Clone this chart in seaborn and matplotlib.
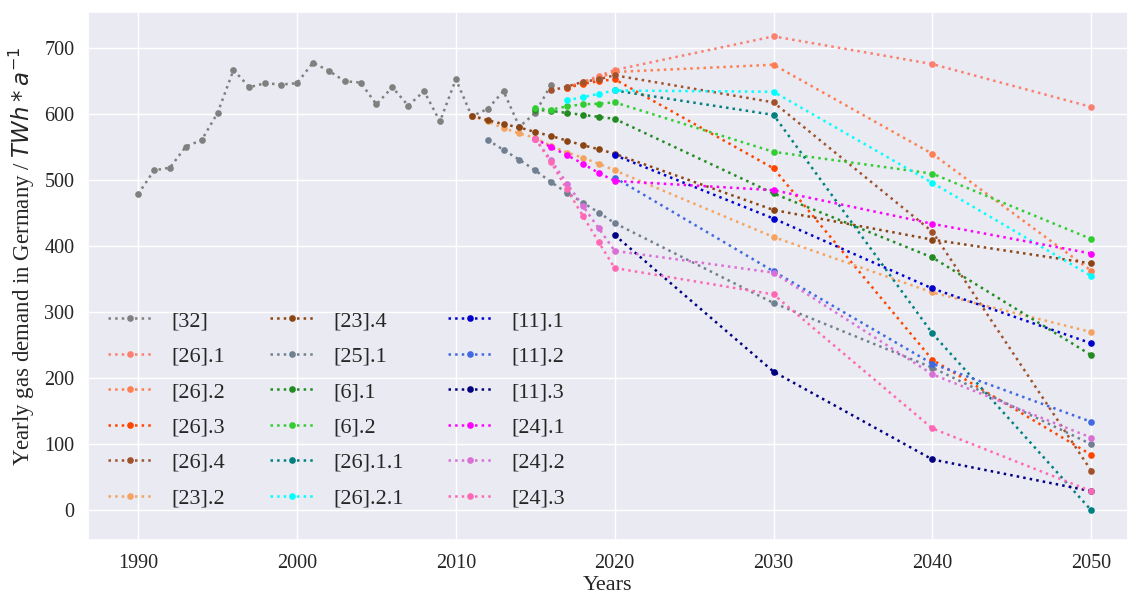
import matplotlib
matplotlib.use("Agg")
import matplotlib.pyplot as plt
import seaborn as sns

# Historical demand [32]
hist_years = list(range(1990, 2017))
hist_values = [479, 515, 519, 551, 561, 602, 667, 641, 647, 645, 647, 678, 666,
               650, 648, 615, 641, 613, 635, 589, 653, 597, 608, 635, 581, 602, 645]

# Scenario series
s26_1_years = [2017, 2018, 2019, 2020, 2030, 2040, 2050]
s26_1_values = [641, 649, 658, 667, 718, 676, 611]

s26_2_years = [2017, 2018, 2019, 2020, 2030, 2040, 2050]
s26_2_values = [640, 647, 655, 664, 675, 540, 363]

s26_3_years = [2017, 2018, 2019, 2020, 2030, 2040, 2050]
s26_3_values = [640, 646, 650, 653, 518, 228, 84]

s26_4_years = [2016, 2017, 2018, 2019, 2020, 2030, 2040, 2050]
s26_4_values = [636, 642, 649, 653, 659, 618, 422, 60]

s23_2_years = [2011, 2012, 2013, 2014, 2015, 2016, 2017, 2018, 2019, 2020, 2030, 2040, 2050]
s23_2_values = [598, 589, 579, 571, 564, 552, 542, 534, 525, 515, 414, 330, 270]

s23_4_years = [2011, 2012, 2013, 2014, 2015, 2016, 2017, 2018, 2019, 2020, 2030, 2040, 2050]
s23_4_values = [598, 591, 585, 580, 573, 567, 560, 553, 547, 540, 455, 410, 374]

s25_1_years = [2012, 2013, 2014, 2015, 2016, 2017, 2018, 2019, 2020, 2030, 2040, 2050]
s25_1_values = [561, 546, 531, 515, 497, 481, 466, 451, 435, 314, 216, 100]

s6_1_years = [2015, 2016, 2017, 2018, 2019, 2020, 2030, 2040, 2050]
s6_1_values = [607, 605, 602, 599, 596, 593, 480, 383, 235]

s6_2_years = [2015, 2016, 2017, 2018, 2019, 2020, 2030, 2040, 2050]
s6_2_values = [609, 607, 612, 615, 616, 618, 543, 510, 411]

s26_1_1_years = [2020, 2030, 2040, 2050]
s26_1_1_values = [636, 599, 268, 0]

s26_2_1_years = [2017, 2018, 2019, 2020, 2030, 2040, 2050]
s26_2_1_values = [621, 626, 631, 636, 634, 496, 355]

s11_1_years = [2020, 2030, 2040, 2050]
s11_1_values = [538, 442, 336, 253]

s11_2_years = [2020, 2030, 2040, 2050]
s11_2_values = [504, 362, 222, 134]

s11_3_years = [2020, 2030, 2040, 2050]
s11_3_values = [417, 210, 77, 29]

s24_1_years = [2015, 2016, 2017, 2018, 2019, 2020, 2030, 2040, 2050]
s24_1_values = [563, 550, 538, 525, 511, 499, 485, 434, 389]

s24_2_years = [2015, 2016, 2017, 2018, 2019, 2020, 2030, 2040, 2050]
s24_2_values = [563, 530, 495, 461, 427, 393, 360, 206, 110]

s24_3_years = [2015, 2016, 2017, 2018, 2019, 2020, 2030, 2040, 2050]
s24_3_values = [563, 527, 486, 446, 406, 367, 327, 124, 29]

labels = ["[32]", "[26].1", "[26].2", "[26].3", "[26].4", "[23].2",
          "[23].4", "[25].1", "[6].1", "[6].2", "[26].1.1", "[26].2.1",
          "[11].1", "[11].2", "[11].3", "[24].1", "[24].2", "[24].3"]
colors = ["gray", "salmon", "coral", "orangered", "sienna", "sandybrown",
          "saddlebrown", "slategray", "forestgreen", "limegreen", "teal", "cyan",
          "mediumblue", "royalblue", "navy", "magenta", "orchid", "hotpink"]
series = [
    (hist_years, hist_values),
    (s26_1_years, s26_1_values),
    (s26_2_years, s26_2_values),
    (s26_3_years, s26_3_values),
    (s26_4_years, s26_4_values),
    (s23_2_years, s23_2_values),
    (s23_4_years, s23_4_values),
    (s25_1_years, s25_1_values),
    (s6_1_years, s6_1_values),
    (s6_2_years, s6_2_values),
    (s26_1_1_years, s26_1_1_values),
    (s26_2_1_years, s26_2_1_values),
    (s11_1_years, s11_1_values),
    (s11_2_years, s11_2_values),
    (s11_3_years, s11_3_values),
    (s24_1_years, s24_1_values),
    (s24_2_years, s24_2_values),
    (s24_3_years, s24_3_values),
]

x_ticks = [1990, 2000, 2010, 2020, 2030, 2040, 2050]
y_ticks = [0, 100, 200, 300, 400, 500, 600, 700]

sns.set_theme(style="darkgrid")
plt.rcParams["font.family"] = ["Liberation Serif", "DejaVu Serif"]
plt.rcParams["mathtext.fontset"] = "dejavusans"

fig = plt.figure(figsize=(11.3, 5.96), dpi=100)
ax = fig.add_axes([0.078, 0.094, 0.920, 0.886])

for (xs, ys), lab, col in zip(series, labels, colors):
    sns.lineplot(x=xs, y=ys, ax=ax, color=col, linestyle=":", linewidth=1.8,
                 marker="o", markersize=4.8, markeredgewidth=0, label=lab)

ax.set_xlim(1986.85, 2052.3)
ax.set_ylim(-45, 755)
ax.set_xticks(x_ticks)
ax.set_yticks(y_ticks)
ax.tick_params(labelsize=14.5, pad=4)
ax.set_xlabel("Years", fontsize=16)
ax.set_ylabel("Yearly gas demand in Germany / $TWh * a^{-1}$", fontsize=16.5)
ax.xaxis.set_label_coords(0.5, -0.068)
ax.yaxis.set_label_coords(-0.064, 0.538)
ax.yaxis.label.set_verticalalignment("center")

ax.legend(loc="lower left", bbox_to_anchor=(0.0, 0.022), ncol=3, fontsize=16,
          frameon=False, handlelength=2.0, handletextpad=0.85,
          columnspacing=2.0, labelspacing=0.67)

fig.savefig("out.png", dpi=100)
